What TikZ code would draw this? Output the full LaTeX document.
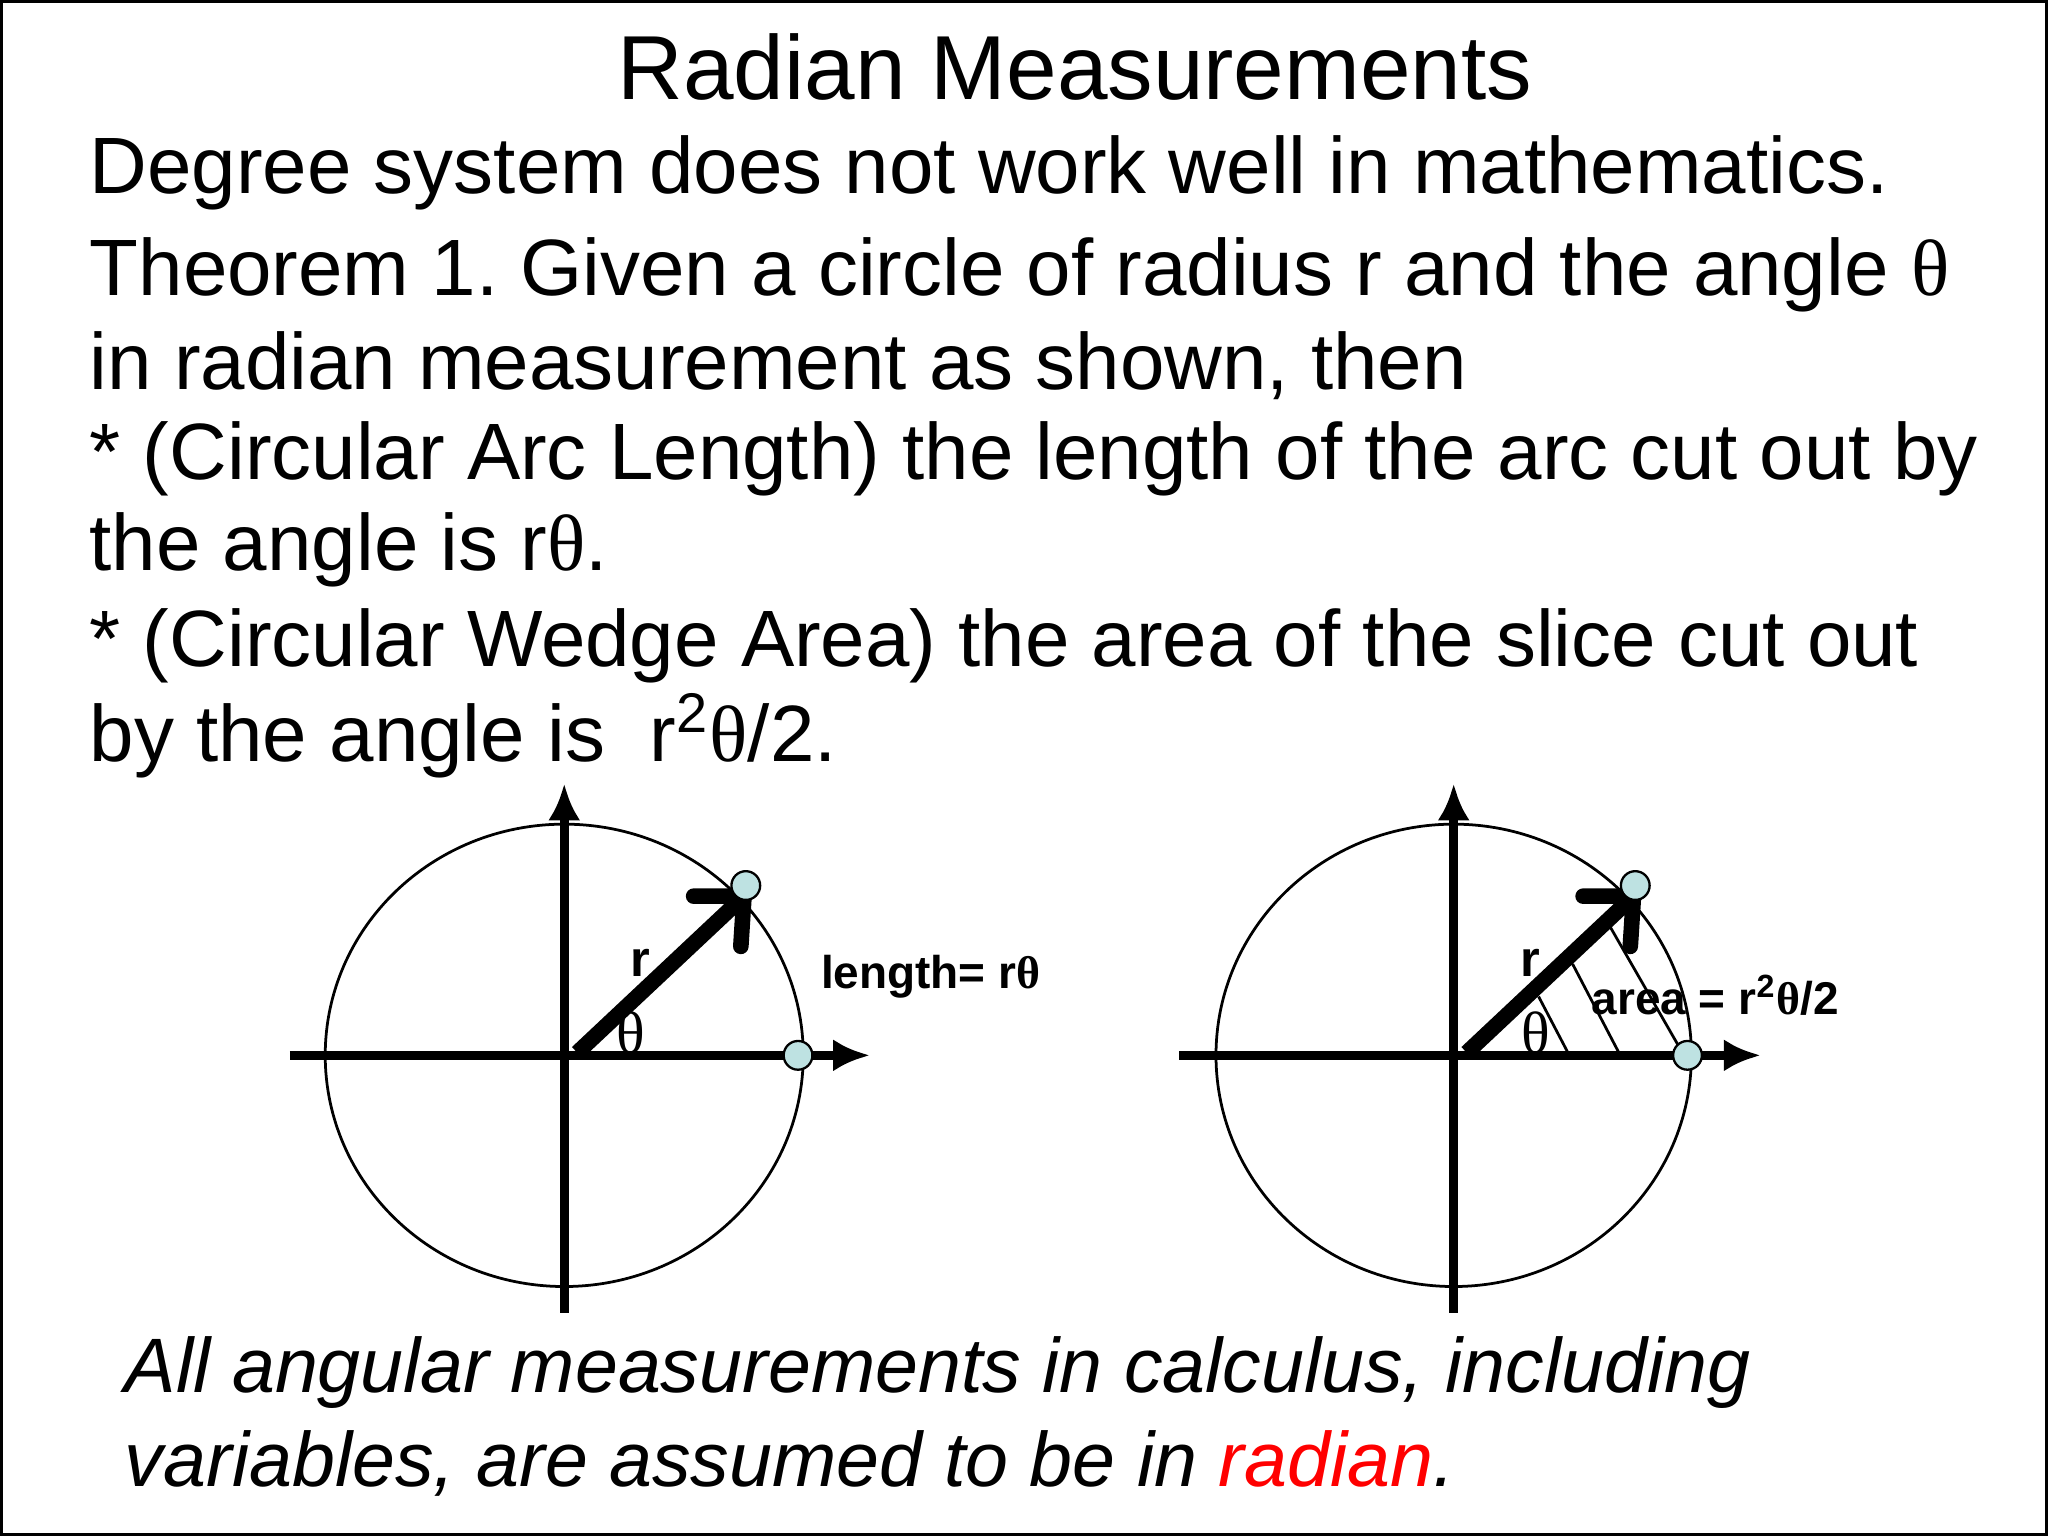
\documentclass[tikz,border=0pt]{standalone}
\usepackage{fontspec}
\setmainfont{Liberation Sans}
\newfontfamily\thetafont{Liberation Serif}
\newcommand{\thx}{{\thetafont θ}}
\definecolor{dotfill}{RGB}{190,226,226}
\usetikzlibrary{arrows.meta}
\frenchspacing
\begin{document}
\begin{tikzpicture}[x=0.01cm,y=-0.01cm,
  body/.style={anchor=base west,inner sep=0,font=\fontsize{17.4}{18}\selectfont},
  lbl/.style={inner sep=0,font=\fontsize{9}{9}\selectfont\bfseries},
  axis/.style={line width=2pt,-{Latex[length=8pt,width=7pt]}},
  vec/.style={line width=3.4pt,-{Straight Barb[length=8pt,width=15pt,round]}},
  dot/.style={circle,draw,fill=dotfill,minimum size=0.22cm,inner sep=0,line width=0.5pt}]
\useasboundingbox (0,0) rectangle (1568,1176);
\draw[line width=0.6pt] (1,1) rectangle (1567,1175);
\node[anchor=base,inner sep=0,font=\fontsize{19.8}{20}\selectfont] (title) at (823,76) {Radian Measurements};
\node[body] (l1) at (68,148) {Degree system does not work well in mathematics.};
\node[body] (l2) at (68,226) {Theorem 1. Given a circle of radius r and the angle \thx};
\node[body] (l3) at (68,298) {in radian measurement as shown, then};
\node[body] (l4) at (68,367) {* (Circular Arc Length) the length of the arc cut out by};
\node[body] (l5) at (68,437) {the angle is r\thx.};
\node[body] (l6) at (68,510) {* (Circular Wedge Area) the area of the slice cut out};
\node[body] (l7) at (68,583) {by the angle is\ \ r\textsuperscript{2}\thx/2.};
\node[body,font=\fontsize{16.8}{18}\selectfont\itshape] (b1) at (95,1066) {All angular measurements in calculus, including};
\node[body,font=\fontsize{16.8}{18}\selectfont\itshape] (b2) at (95,1138) {variables, are assumed to be in \textcolor{red}{radian}.};
% left diagram
\coordinate (c1) at (432,808);
\draw[line width=0.6pt] (c1) ellipse [x radius=183,y radius=177];
\coordinate (lxs) at (222,808); \coordinate (lxe) at (666,808);
\coordinate (lys) at (432,1005); \coordinate (lye) at (432,600);
\draw[axis] (lxs) -- (lxe);
\draw[axis] (lys) -- (lye);
\coordinate (o1) at (442,806);
\coordinate (p1) at (574,682);
\draw[vec] (o1) -- (p1);
\node[dot] (d1a) at (571,678) {};
\node[dot] (d1b) at (611,808) {};
\node[lbl,font=\fontsize{11}{11}\selectfont\bfseries] (r1) at (490,737) {r};
\node[inner sep=0,font=\fontsize{13}{13}\selectfont] (t1) at (483,791) {\thx};
\node[lbl,anchor=west,font=\fontsize{10}{10}\selectfont\bfseries] (len) at (628,748) {length= r\thx};
% right diagram
\coordinate (c2) at (1113,808);
\draw[line width=0.6pt] (c2) ellipse [x radius=182,y radius=177];
\coordinate (rxs) at (903,808); \coordinate (rxe) at (1348,808);
\coordinate (rys) at (1113,1005); \coordinate (rye) at (1113,600);
\draw[axis] (rxs) -- (rxe);
\draw[axis] (rys) -- (rye);
\coordinate (h1a) at (1178,763); \coordinate (h1b) at (1201,807);
\coordinate (h2a) at (1204,738); \coordinate (h2b) at (1240,807);
\coordinate (h3a) at (1233,710); \coordinate (h3b) at (1287,804);
\draw[line width=0.6pt] (h1a) -- (h1b) (h2a) -- (h2b) (h3a) -- (h3b);
\coordinate (o2) at (1123,806);
\coordinate (p2) at (1255,682);
\draw[vec] (o2) -- (p2);
\node[dot] (d2a) at (1252,678) {};
\node[dot] (d2b) at (1292,808) {};
\node[lbl,font=\fontsize{11}{11}\selectfont\bfseries] (r2) at (1172,737) {r};
\node[inner sep=0,font=\fontsize{13}{13}\selectfont] (t2) at (1176,791) {\thx};
\node[lbl,anchor=west,font=\fontsize{10}{10}\selectfont\bfseries] (area) at (1218,762) {area = r\textsuperscript{2}\thx/2};
\end{tikzpicture}
\end{document}
